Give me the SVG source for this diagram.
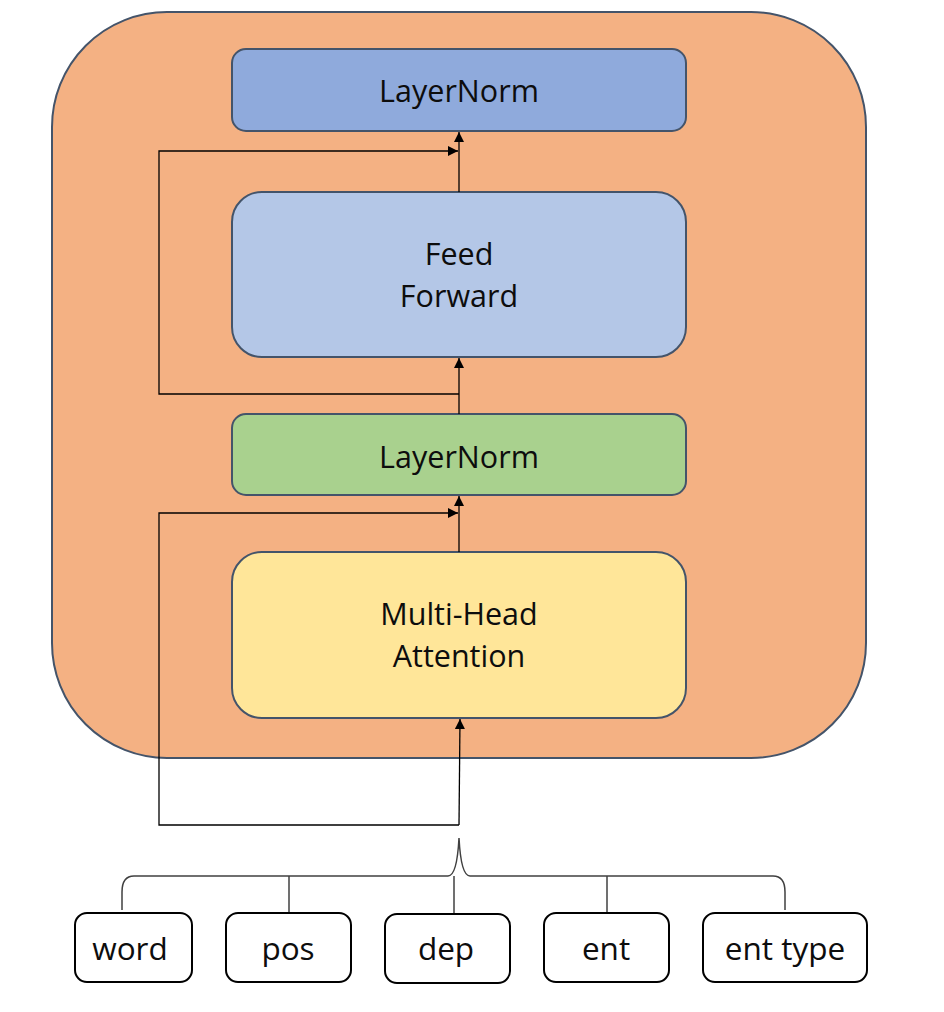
<svg xmlns="http://www.w3.org/2000/svg" width="944" height="1012" viewBox="0 0 944 1012">
<defs>
<style>
.box{stroke:#44546A;stroke-width:2}
.lbl{font-family:"Open Sans","Liberation Sans",sans-serif;font-size:30.5px;fill:#0d0d0d;text-anchor:middle}
.sm{font-size:31.5px}
.in{fill:#fff;stroke:#000;stroke-width:2}
.con{fill:none;stroke:#000;stroke-width:1.3}
.brace{fill:none;stroke:#404040;stroke-width:1.5}
</style>
<marker id="ah" viewBox="0 0 10 10" refX="10" refY="5" markerWidth="11" markerHeight="10" markerUnits="userSpaceOnUse" orient="auto">
<path d="M0,0 L10,5 L0,10 z" fill="#000"/>
</marker>
</defs>
<rect width="944" height="1012" fill="#fff"/>
<g id="block">
<rect x="52" y="12" width="814" height="746" rx="115" ry="115" fill="#F4B183" class="box"/>
</g>
<g id="layernorm-top">
<rect x="232" y="49" width="454" height="82" rx="14" fill="#8FAADC" class="box"/>
<text x="459" y="102" class="lbl">LayerNorm</text>
</g>
<g id="feed-forward">
<rect x="232" y="192" width="454" height="165" rx="30" fill="#B4C7E7" class="box"/>
<text x="459" y="265" class="lbl">Feed</text>
<text x="459" y="307" class="lbl">Forward</text>
</g>
<g id="layernorm-mid">
<rect x="232" y="414" width="454" height="81" rx="14" fill="#A9D18E" class="box"/>
<text x="459" y="468" class="lbl">LayerNorm</text>
</g>
<g id="multi-head">
<rect x="232" y="552" width="454" height="166" rx="30" fill="#FFE699" class="box"/>
<text x="459" y="625" class="lbl">Multi-Head</text>
<text x="459" y="667" class="lbl">Attention</text>
</g>
<g id="connectors">
<line x1="459" y1="192" x2="459" y2="132" class="con" marker-end="url(#ah)"/>
<polyline points="459,394 159,394 159,151 458,151" class="con" marker-end="url(#ah)"/>
<line x1="459" y1="414" x2="459" y2="358" class="con" marker-end="url(#ah)"/>
<line x1="459" y1="552" x2="459" y2="496" class="con" marker-end="url(#ah)"/>
<polyline points="459,825 159,825 159,513 458,513" class="con" marker-end="url(#ah)"/>
<line x1="459" y1="825" x2="460" y2="719" class="con" marker-end="url(#ah)"/>
<path d="M122,910 L122,892 Q122,876 134,876 L448,876 Q457,876 459,838 Q461,876 470,876 L773,876 Q785,876 785,892 L785,910" class="brace"/>
<line x1="289" y1="876" x2="289" y2="913" class="brace"/>
<line x1="454" y1="876" x2="454" y2="913" class="brace"/>
<line x1="607" y1="876" x2="607" y2="913" class="brace"/>
</g>
<g id="word">
<rect x="75" y="913" width="117" height="69" rx="12" class="in"/>
<text x="130" y="960" class="lbl sm">word</text>
</g>
<g id="pos">
<rect x="226" y="913" width="125" height="69" rx="12" class="in"/>
<text x="288" y="960" class="lbl sm">pos</text>
</g>
<g id="dep">
<rect x="385" y="914" width="125" height="69" rx="12" class="in"/>
<text x="446" y="960" class="lbl sm">dep</text>
</g>
<g id="ent">
<rect x="544" y="913" width="125" height="69" rx="12" class="in"/>
<text x="606" y="960" class="lbl sm">ent</text>
</g>
<g id="ent-type">
<rect x="703" y="913" width="164" height="69" rx="12" class="in"/>
<text x="785" y="960" class="lbl sm">ent type</text>
</g>
</svg>
